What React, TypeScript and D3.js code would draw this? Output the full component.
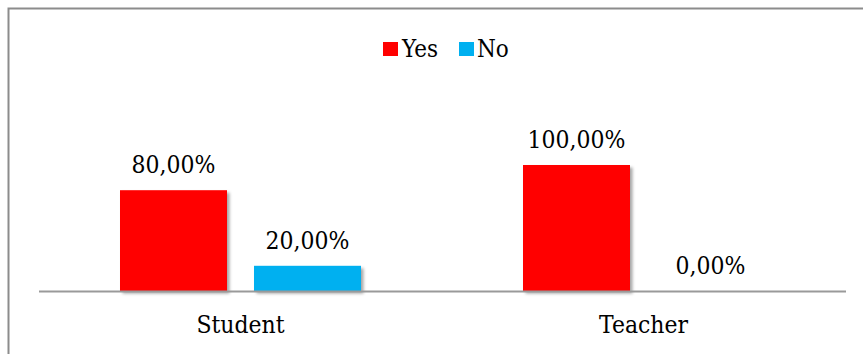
import React from "react";
import * as d3 from "d3";

const categories = ["Student", "Teacher"];
const seriesNames = ["Yes", "No"];
const yesValues = [0.8, 1.0];
const noValues = [0.2, 0.0];
const seriesColors = ["#ff0000", "#00b0f0"];

const W = 863;
const H = 354;
const FONT = "'DejaVu Serif', serif";
const SX = 0.88;

function Label({ x, y, size, anchor, children }: { x: number; y: number; size: number; anchor?: string; children: React.ReactNode }) {
  return (
    <text
      transform={`translate(${x},${y}) scale(${SX},1)`}
      fontFamily={FONT}
      fontSize={size}
      fill="#000"
      textAnchor={anchor || "start"}
    >
      {children}
    </text>
  );
}

export default function App() {
  const x0 = d3.scaleBand<string>().domain(categories).range([39, 845]).paddingInner(0).paddingOuter(0);
  const x1 = d3
    .scaleBand<string>()
    .domain(seriesNames)
    .range([0, x0.bandwidth()])
    .paddingInner(0.2015)
    .paddingOuter(0.6045);
  const y = d3.scaleLinear().domain([0, 1]).range([291, 165]);
  const fmt = (v: number) => (v * 100).toFixed(2).replace(".", ",") + "%";
  const series = [yesValues, noValues];

  return (
    <svg width={W} height={H} style={{ position: "absolute", left: 0, top: 0, background: "#fff" }}>
      <defs>
        <filter id="sh" x="-10%" y="-10%" width="130%" height="130%">
          <feDropShadow dx="2.5" dy="2.5" stdDeviation="1.5" floodColor="#000" floodOpacity="0.35" />
        </filter>
      </defs>
      <rect x={0} y={0} width={W} height={H} fill="#fff" />
      <rect x={8.5} y={8.5} width={W + 20} height={H + 20} fill="none" stroke="#8c8c8c" strokeWidth={2} />
      {/* legend */}
      <rect x={383} y={42} width={15} height={14} fill={seriesColors[0]} />
      <Label x={402} y={57} size={24.5}>{seriesNames[0]}</Label>
      <rect x={459} y={42} width={15} height={14} fill={seriesColors[1]} />
      <Label x={477} y={57} size={24.5}>{seriesNames[1]}</Label>
      {/* bars */}
      {categories.map((c, i) => (
        <g key={c} transform={`translate(${x0(c)},0)`}>
          {seriesNames.map((s, j) => {
            const v = series[j][i];
            if (v <= 0) return null;
            return (
              <rect
                key={s}
                x={x1(s)}
                y={y(v)}
                width={x1.bandwidth()}
                height={y(0) - y(v)}
                fill={seriesColors[j]}
                filter="url(#sh)"
              />
            );
          })}
        </g>
      ))}
      {/* axis line */}
      <line x1={39} x2={846} y1={291.5} y2={291.5} stroke="#9a9a9a" strokeWidth={2} />
      {/* value labels */}
      {categories.map((c, i) =>
        seriesNames.map((s, j) => {
          const v = series[j][i];
          return (
            <Label
              key={c + s}
              x={(x0(c) as number) + (x1(s) as number) + x1.bandwidth() / 2}
              y={y(v) - 17}
              size={25}
              anchor="middle"
            >
              {fmt(v)}
            </Label>
          );
        })
      )}
      {/* category labels */}
      {categories.map((c) => (
        <Label key={c} x={(x0(c) as number) + x0.bandwidth() / 2} y={333} size={25} anchor="middle">
          {c}
        </Label>
      ))}
    </svg>
  );
}
